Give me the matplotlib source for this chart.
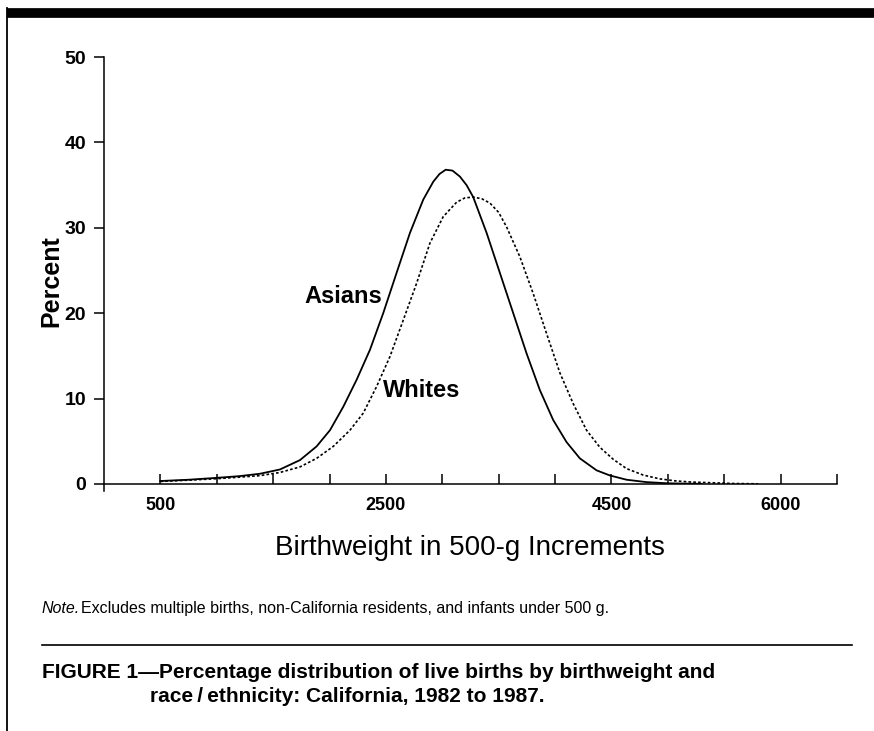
import matplotlib
matplotlib.use("Agg")
import matplotlib.pyplot as plt
from matplotlib.lines import Line2D

plt.rcParams['font.family'] = ['Liberation Sans', 'DejaVu Sans']

# values (grams, percent)
asian_g = [500, 750, 1000, 1200, 1383, 1560, 1738, 1885, 2004, 2122, 2240, 2358,
           2476, 2594, 2713, 2831, 2920, 2975, 3030, 3090, 3156, 3215, 3274, 3393,
           3511, 3629, 3747, 3865, 3983, 4102, 4220, 4368, 4486, 4634, 4811, 5000,
           5300]
asian_pct = [0.35, 0.5, 0.72, 0.92, 1.2, 1.7, 2.8, 4.4, 6.3, 9.05, 12.2, 15.7,
             20.0, 24.7, 29.4, 33.3, 35.4, 36.3, 36.8, 36.7, 36.0, 35.0, 33.6, 29.4,
             24.7, 20.0, 15.3, 11.0, 7.5, 4.9, 3.0, 1.6, 1.0, 0.5, 0.22, 0.08,
             0.02]

white_g = [500, 750, 1000, 1200, 1383, 1560, 1738, 1885, 2033, 2181, 2299, 2417,
           2535, 2654, 2772, 2890, 3008, 3127, 3200, 3274, 3350, 3422, 3500, 3570,
           3688, 3806, 3925, 4043, 4161, 4279, 4397, 4515, 4634, 4781, 4929, 5077,
           5225, 5401, 5580, 5800]
white_pct = [0.3, 0.45, 0.62, 0.8, 0.98, 1.35, 2.0, 3.0, 4.4, 6.3, 8.3, 11.4,
             14.9, 19.2, 23.5, 28.2, 31.3, 33.0, 33.5, 33.6, 33.4, 32.9, 31.8, 30.1,
             26.6, 22.3, 17.6, 13.0, 9.4, 6.3, 4.3, 2.9, 1.8, 1.05, 0.6, 0.35,
             0.22, 0.14, 0.06, 0.02]

x_labeled = [500, 2500, 4500, 6000]
x_minor = [1000, 1500, 2000, 3000, 3500, 4000, 5000, 5500, 6500]
y_ticks = [0, 10, 20, 30, 40, 50]

fig = plt.figure(figsize=(8.74, 7.31), dpi=100)

# page frame: thick bar at top, thin rule down the left side
fig.add_artist(Line2D([7 / 874, 1], [1 - 13 / 731] * 2, color='black', lw=7,
                      solid_capstyle='butt'))
fig.add_artist(Line2D([7 / 874] * 2, [0, 1 - 8 / 731], color='black', lw=1.3))

ax = fig.add_axes([104 / 874, 1 - 484 / 731, 733 / 874, 427 / 731])
ax.plot(asian_g, asian_pct, color='black', lw=1.3)
ax.plot(white_g, white_pct, color='black', lw=1.2, linestyle=(0, (1.6, 1.3)))

ax.set_xlim(0, 6500)
ax.set_ylim(0, 50)
for s in ['top', 'right']:
    ax.spines[s].set_visible(False)
ax.spines['left'].set_bounds(-0.8, 50)
ax.spines['left'].set_linewidth(1.1)
ax.spines['bottom'].set_linewidth(1.1)

ax.set_xticks(x_labeled)
ax.set_xticklabels([str(v) for v in x_labeled], fontsize=13, fontweight='bold')
ax.set_xticks(x_minor, minor=True)
ax.tick_params(axis='x', which='both', direction='in', length=7, width=1.1, pad=9)
ax.set_yticks(y_ticks)
ax.set_yticklabels([str(v) for v in y_ticks], fontsize=14, fontweight='bold')
ax.tick_params(axis='y', direction='out', length=7, width=1.1, pad=6)

ax.text(2120, 22, 'Asians', fontsize=17, fontweight='bold', ha='center', va='center')
ax.text(2820, 11, 'Whites', fontsize=17, fontweight='bold', ha='center', va='center')

fig.text(51 / 874, 1 - 281 / 731, 'Percent', rotation=90, fontsize=18,
         fontweight='bold', ha='center', va='center')
fig.text(470 / 874, 1 - 548 / 731, 'Birthweight in 500-g Increments', fontsize=20,
         ha='center', va='center')

fig.text(42 / 874, 1 - 613 / 731, 'Note.', fontsize=11.5, style='italic', va='baseline')
fig.text(81 / 874, 1 - 613 / 731,
         'Excludes multiple births, non-California residents, and infants under 500 g.',
         fontsize=11.5, va='baseline')

fig.add_artist(Line2D([42 / 874, 852 / 874], [1 - 645 / 731] * 2, color='black', lw=1.2))

fig.text(42 / 874, 1 - 672 / 731,
         'FIGURE 1\u2014Percentage distribution of live births by birthweight and',
         fontsize=15, fontweight='bold', va='center')
fig.text(150 / 874, 1 - 696 / 731, 'race\u2009/\u2009ethnicity: California, 1982 to 1987.',
         fontsize=15, fontweight='bold', va='center')

fig.savefig('out.png', dpi=100)
